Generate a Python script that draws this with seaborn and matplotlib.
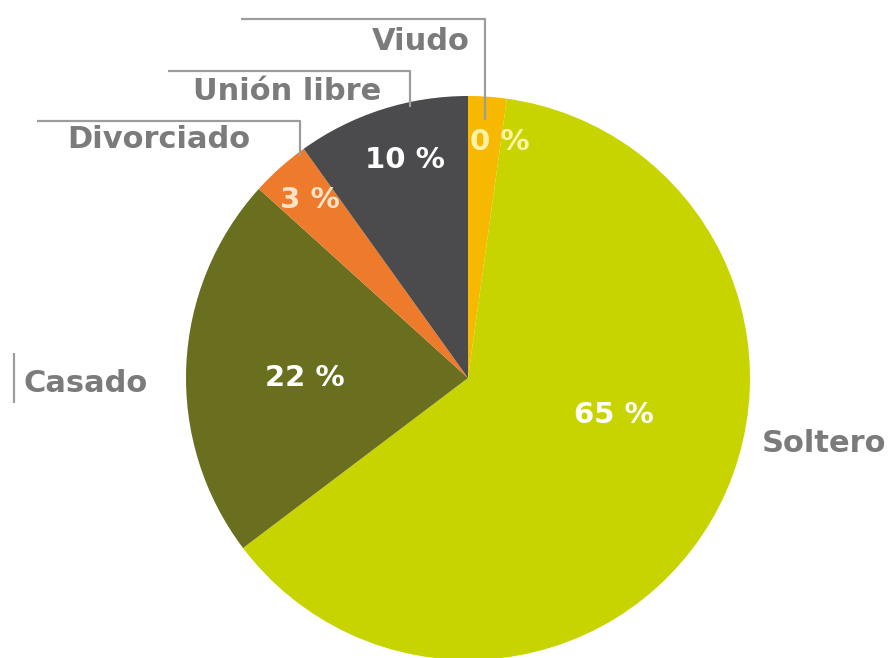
import matplotlib
matplotlib.use("Agg")
import matplotlib.pyplot as plt
import seaborn as sns

# estado civil - shares, labels as printed
categories = ["Viudo", "Soltero", "Casado", "Divorciado", "Unión libre"]
shares = [2.2, 62.5, 22.0, 3.4, 9.9]
pct_labels = ["0 %", "65 %", "22 %", "3 %", "10 %"]
colors = ["#f6b800", "#c8d400", "#6a6e1f", "#ee7a2b", "#4b4b4d"]

W, H = 896, 658

sns.set_theme(style="white")
plt.rcParams['font.family'] = ['DejaVu Sans']

fig = plt.figure(figsize=(W / 100, H / 100), dpi=100)
ax = fig.add_axes([0, 0, 1, 1])

cx, cy, r = 468, H - 378, 282
wedges, _ = ax.pie(shares, colors=colors, startangle=90, counterclock=False,
                   center=(cx, cy), radius=r, frame=True,
                   wedgeprops=dict(linewidth=0))
ax.set_xlim(0, W)
ax.set_ylim(0, H)
ax.axis("off")

# percent labels inside the slices (pixel positions from top)
pct_pos = [(500, 142), (614, 415), (305, 378), (310, 200), (405, 160)]
pct_col = ["#fff2a8", "white", "white", "#ffe3c8", "white"]
for lab, (x, y), c in zip(pct_labels, pct_pos, pct_col):
    ax.text(x, H - y, lab, ha="center", va="center", fontsize=21,
            fontweight="bold", color=c)

# category labels with leader lines
gray_txt = "#7b7b7b"
gray_line = "#9c9c9c"
lw = 1.6
fs = 22

def leader(pts):
    xs = [p[0] for p in pts]
    ys = [H - p[1] for p in pts]
    ax.plot(xs, ys, color=gray_line, lw=lw, solid_capstyle="butt")

leader([(241, 19), (485, 19), (485, 120)])
ax.text(470, H - 42, categories[0], ha="right", va="center", fontsize=fs,
        fontweight="bold", color=gray_txt)

leader([(168, 71), (410, 71), (410, 107)])
ax.text(381, H - 91, categories[4], ha="right", va="center", fontsize=fs,
        fontweight="bold", color=gray_txt)

leader([(37, 121), (300, 121), (300, 156)])
ax.text(250, H - 139, categories[3], ha="right", va="center", fontsize=fs,
        fontweight="bold", color=gray_txt)

leader([(14, 353), (14, 403)])
ax.text(23, H - 384, categories[2], ha="left", va="center", fontsize=fs,
        fontweight="bold", color=gray_txt)

ax.text(762, H - 443, categories[1], ha="left", va="center", fontsize=fs,
        fontweight="bold", color=gray_txt)

fig.savefig("out.png", dpi=100)
